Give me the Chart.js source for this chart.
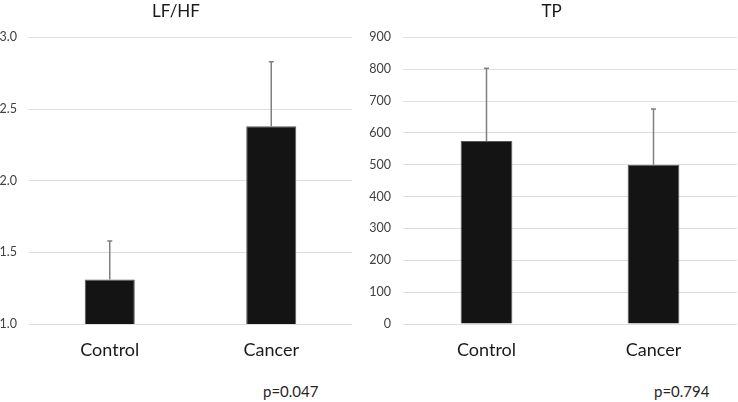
<!DOCTYPE html>
<html>
<head>
<meta charset="utf-8">
<script src="https://cdn.jsdelivr.net/npm/chart.js@4/dist/chart.umd.min.js"></script>
<style>
  body { margin: 0; background: #fff; width: 738px; height: 402px; position: relative; overflow: hidden; }
  canvas { position: absolute; top: 0; }
  #c1 { left: 0; }
  #c2 { left: 366px; }
  .pval { position: absolute; font-family: Lato, sans-serif; font-size: 15px; color: #262626; top: 382px; }
</style>
</head>
<body>
<canvas id="c1" width="358" height="370"></canvas>
<canvas id="c2" width="372" height="370"></canvas>
<div class="pval" style="left:263px">p=0.047</div>
<div class="pval" style="left:654px">p=0.794</div>
<script>
var categorias = ['Control', 'Cancer'];
var lfhfMedia = [1.31, 2.38];
var lfhfDE = [0.27, 0.45];
var tpMedia = [575, 500];
var tpDE = [228, 175];
var lfhfTicks = [1.0, 1.5, 2.0, 2.5, 3.0];
var tpTicks = [0, 100, 200, 300, 400, 500, 600, 700, 800, 900];

// barras de error dibujadas con la escala y del grafico
var errorBars = {
  id: 'errorBars',
  afterDatasetsDraw: function(chart, args, opts) {
    var ctx = chart.ctx;
    var meta = chart.getDatasetMeta(0);
    var ys = chart.scales.y;
    var medias = chart.data.datasets[0].data;
    ctx.save();
    ctx.strokeStyle = '#808080';
    ctx.lineWidth = 1.5;
    meta.data.forEach(function(bar, i) {
      var top = ys.getPixelForValue(medias[i] + opts.de[i]);
      ctx.beginPath();
      ctx.moveTo(bar.x, bar.y);
      ctx.lineTo(bar.x, top);
      ctx.moveTo(bar.x - 2.5, top);
      ctx.lineTo(bar.x + 2.5, top);
      ctx.stroke();
    });
    ctx.restore();
  }
};

function crearChart(id, titulo, medias, de, ticks, yAncho, padDer, formato) {
  var ctx = document.getElementById(id);
  return new Chart(ctx, {
    type: 'bar',
    data: {
      labels: categorias,
      datasets: [{
        data: medias,
        backgroundColor: '#141414',
        borderColor: '#5a5a5a',
        borderWidth: 1,
        barPercentage: 0.31,
        categoryPercentage: 1
      }]
    },
    plugins: [errorBars],
    options: {
      responsive: false,
      animation: false,
      layout: { padding: { left: 0, right: padDer, top: 0, bottom: 0 } },
      plugins: {
        legend: { display: false },
        tooltip: { enabled: false },
        title: {
          display: true,
          text: titulo,
          color: '#1a1a1a',
          font: { family: 'Lato', size: 17, weight: 'normal' },
          padding: { top: 1, bottom: 16 }
        },
        errorBars: { de: de }
      },
      scales: {
        x: {
          grid: { display: false, drawTicks: false },
          border: { display: false },
          ticks: { color: '#1a1a1a', font: { family: 'Lato', size: 18 }, padding: 15 },
          afterFit: function(s) { s.height = 46; }
        },
        y: {
          min: ticks[0],
          max: ticks[ticks.length - 1],
          afterBuildTicks: function(s) { s.ticks = ticks.map(function(v) { return { value: v }; }); },
          grid: { color: '#dedede', lineWidth: 1, drawTicks: false },
          border: { display: false },
          ticks: {
            color: '#404040',
            font: { family: 'Lato', size: 12.5 },
            padding: 12,
            callback: formato
          },
          afterFit: function(s) { s.width = yAncho; }
        }
      }
    }
  });
}

crearChart('c1', 'LF/HF', lfhfMedia, lfhfDE, lfhfTicks, 29, 6, function(v) { return Number(v).toFixed(1); });
crearChart('c2', 'TP', tpMedia, tpDE, tpTicks, 37, 1, function(v) { return v; });
</script>
</body>
</html>
